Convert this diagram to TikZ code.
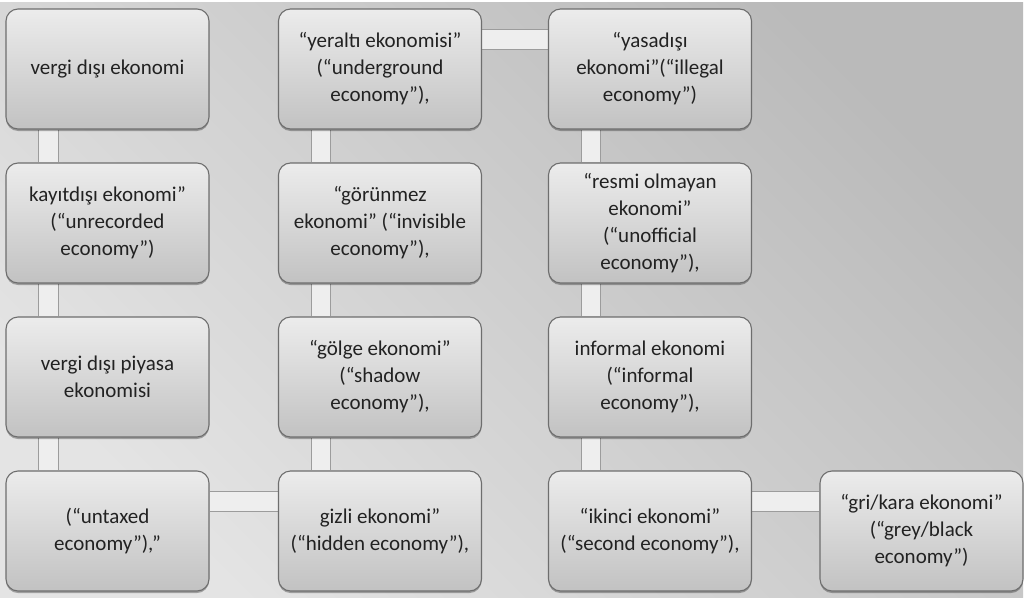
\documentclass[tikz,border=0pt]{standalone}
\usepackage{fontspec}
\setmainfont{Carlito}
\usetikzlibrary{shadows}
\pgfdeclarelayer{background}
\pgfdeclarelayer{bars}
\pgfsetlayers{background,bars,main}
\definecolor{bgdark}{HTML}{BABABA}
\definecolor{bglight}{HTML}{E4E4E4}
\definecolor{boxtop}{HTML}{ECECEC}
\definecolor{boxbot}{HTML}{C2C2C2}
\definecolor{boxline}{HTML}{6E6E6E}
\definecolor{barfill}{HTML}{EEEEEE}
\definecolor{barline}{HTML}{9C9C9C}
\definecolor{txt}{HTML}{222222}
\tikzset{
  box/.style={draw=boxline, line width=1.1pt, rounded corners=12pt,
    top color=boxtop, bottom color=boxbot,
    minimum width=203pt, minimum height=120pt, inner sep=0pt,
    align=center, text=txt, font=\fontsize{21pt}{27pt}\selectfont,
    drop shadow={shadow xshift=0pt, shadow yshift=-2pt, opacity=0.3, fill=black}},
  bar/.style={draw=barline, line width=0.8pt, double=barfill, double distance=18.5pt, line cap=butt}
}
\begin{document}
\begin{tikzpicture}[x=1pt,y=-1pt]
\useasboundingbox (0,0) rectangle (1028,597);
\begin{pgfonlayer}{background}
\fill[white] (0,0) rectangle (1028,597);
\shade[top color=bgdark, bottom color=bglight, shading angle=-45]
  (0,2) rectangle (1023,597);
\end{pgfonlayer}
% column 1
\node[box] (a1) at (107.5,69) {vergi dışı ekonomi};
\node[box] (a2) at (107.5,223) {kayıtdışı ekonomi”\\(“unrecorded\\economy”)};
\node[box] (a3) at (107.5,377) {vergi dışı piyasa\\ekonomisi};
\node[box] (a4) at (107.5,531) {(“untaxed\\economy”),”};
% column 2
\node[box] (b1) at (380,69) {“yeraltı ekonomisi”\\(“underground\\economy”),};
\node[box] (b2) at (380,223) {“görünmez\\ekonomi” (“invisible\\economy”),};
\node[box] (b3) at (380,377) {“gölge ekonomi”\\(“shadow\\economy”),};
\node[box] (b4) at (380,531) {gizli ekonomi”\\(“hidden economy”),};
% column 3
\node[box] (c1) at (650,69) {“yasadışı\\ekonomi”(“illegal\\economy”)};
\node[box] (c2) at (650,223) {“resmi olmayan\\ekonomi”\\(“unofficial\\economy”),};
\node[box] (c3) at (650,377) {informal ekonomi\\(“informal\\economy”),};
\node[box] (c4) at (650,531) {“ikinci ekonomi”\\(“second economy”),};
% column 4
\node[box] (d4) at (921.5,531) {“gri/kara ekonomi”\\(“grey/black\\economy”)};
% connectors
\begin{pgfonlayer}{bars}
\foreach \c in {a,b,c}{
  \draw[bar] ([xshift=43pt]\c1.south west) -- ([xshift=43pt]\c2.north west);
  \draw[bar] ([xshift=43pt]\c2.south west) -- ([xshift=43pt]\c3.north west);
  \draw[bar] ([xshift=43pt]\c3.south west) -- ([xshift=43pt]\c4.north west);
}
\draw[bar] ([yshift=-31pt]b1.north east) -- ([yshift=-31pt]c1.north west);
\draw[bar] ([yshift=-31pt]a4.north east) -- ([yshift=-31pt]b4.north west);
\draw[bar] ([yshift=-31pt]c4.north east) -- ([yshift=-31pt]d4.north west);
\end{pgfonlayer}
\end{tikzpicture}
\end{document}
